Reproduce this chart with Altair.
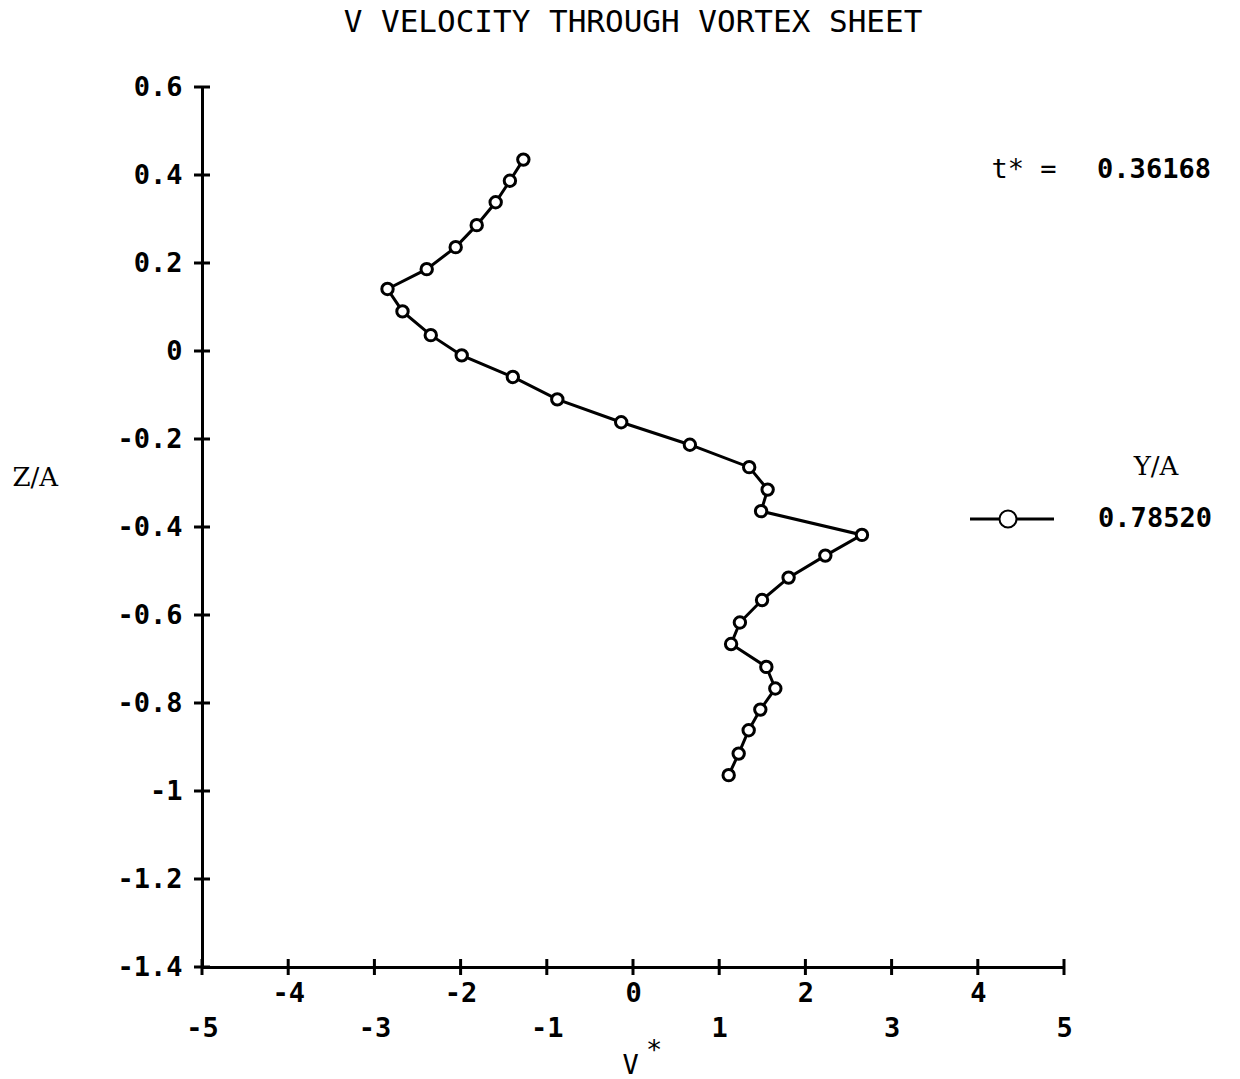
import altair as alt
import pandas as pd

# ---- data ----
v_star = [-1.272, -1.428, -1.593, -1.813, -2.057, -2.393, -2.848, -2.674, -2.346,
          -1.987, -1.394, -0.878, -0.137, 0.660, 1.348, 1.562, 1.486, 2.656,
          2.231, 1.805, 1.497, 1.240, 1.138, 1.547, 1.651, 1.477, 1.342, 1.226, 1.110]
z_a = [0.435, 0.387, 0.338, 0.286, 0.236, 0.186, 0.141, 0.090, 0.036,
       -0.010, -0.059, -0.110, -0.162, -0.213, -0.264, -0.315, -0.364, -0.418,
       -0.465, -0.515, -0.566, -0.617, -0.666, -0.718, -0.767, -0.815, -0.862, -0.915, -0.964]
x_ticks = [-5, -4, -3, -2, -1, 0, 1, 2, 3, 4, 5]
y_ticks = [0.6, 0.4, 0.2, 0, -0.2, -0.4, -0.6, -0.8, -1, -1.2, -1.4]
x_domain = [-5, 5]
y_domain = [-1.4, 0.6]
t_star = "0.36168"
y_over_a = "0.78520"
title_text = "V VELOCITY THROUGH VORTEX SHEET"

df = pd.DataFrame({"idx": list(range(len(v_star))), "v": v_star, "z": z_a})
xt = pd.DataFrame({"v": x_ticks, "z": [y_domain[0]] * len(x_ticks)})
yt = pd.DataFrame({"v": [x_domain[0]] * len(y_ticks), "z": y_ticks})
one = pd.DataFrame({"a": [0]})

MONO = "DejaVu Sans Mono"
SERIF = "DejaVu Serif"

xs = alt.Scale(domain=x_domain, nice=False, zero=False)
ys = alt.Scale(domain=y_domain, nice=False, zero=False)

x_axis = alt.Axis(
    values=x_ticks, grid=False, ticks=False, domainColor="black", domainWidth=3,
    format="~g",
    labelExpr="datum.value % 2 == 0 ? replace(datum.label, '\u2212', '-') : ['', replace(datum.label, '\u2212', '-')]",
    labelFont=MONO, labelFontWeight="bold", labelFontSize=27, labelColor="black",
    labelLineHeight=35, labelPadding=13, labelFlush=False, labelOverlap=False,
    labelBaseline="top",
    title="V", titleFont=MONO, titleFontWeight="normal",
    titleFontSize=27, titleColor="black", titleBaseline="alphabetic",
    titleAlign="center", titleX=428, titleY=106,
)
y_axis = alt.Axis(
    values=y_ticks, grid=False, ticks=False, domainColor="black", domainWidth=3,
    format="~g",
    labelExpr="replace(datum.label, '\u2212', '-')",
    labelFont=MONO, labelFontWeight="bold", labelFontSize=27, labelColor="black",
    labelPadding=20, labelFlush=False, labelOverlap=False,
    title="Z/A", titleFont=SERIF, titleFontWeight="normal", titleFontSize=26,
    titleColor="black", titleAngle=0, titleAlign="left", titleBaseline="middle",
    titleX=-190, titleY=390,
)

X = alt.X("v:Q", scale=xs, axis=x_axis)
Y = alt.Y("z:Q", scale=ys, axis=y_axis)

line = alt.Chart(df).mark_line(color="black", strokeWidth=3).encode(
    x=X, y=Y, order=alt.Order("idx:Q"))
pts = alt.Chart(df).mark_point(shape="circle", fill="white", stroke="black",
                               strokeWidth=3, size=130, opacity=1, fillOpacity=1).encode(x=X, y=Y)
xtick = alt.Chart(xt).mark_tick(orient="vertical", size=16, thickness=3, color="black",
                                opacity=1).encode(x=X, y=Y)
ytick = alt.Chart(yt).mark_tick(orient="horizontal", size=16, thickness=3, color="black",
                                opacity=1).encode(x=X, y=Y)

# annotations (pixel positions relative to the plot area)
star = alt.Chart(one).mark_text(text="*", font=MONO, fontSize=27, align="center",
                                baseline="alphabetic", color="black").encode(
    x=alt.value(452), y=alt.value(972))
t_lbl = alt.Chart(one).mark_text(text="t* =", font=MONO, fontSize=27, align="center",
                                 baseline="middle", color="black").encode(
    x=alt.value(822), y=alt.value(83))
t_val = alt.Chart(one).mark_text(text=t_star, font=MONO, fontSize=27, fontWeight="bold",
                                 align="center", baseline="middle", color="black").encode(
    x=alt.value(952), y=alt.value(83))
leg_title = alt.Chart(one).mark_text(text="Y/A", font=SERIF, fontSize=26, align="center",
                                     baseline="middle", color="black").encode(
    x=alt.value(954), y=alt.value(380))
leg_line = alt.Chart(one).mark_rule(color="black", strokeWidth=3).encode(
    x=alt.value(768), x2=alt.value(852), y=alt.value(432))
leg_pt = alt.Chart(one).mark_point(shape="circle", fill="white", stroke="black", strokeWidth=2,
                                   size=290, opacity=1, fillOpacity=1).encode(
    x=alt.value(806), y=alt.value(432))
leg_val = alt.Chart(one).mark_text(text=y_over_a, font=MONO, fontSize=27, fontWeight="bold",
                                   align="center", baseline="middle", color="black").encode(
    x=alt.value(953), y=alt.value(432))

chart = alt.layer(line, pts, xtick, ytick, star, t_lbl, t_val, leg_title, leg_line, leg_pt,
                  leg_val).properties(
    width=862, height=880,
    title=alt.TitleParams(title_text, font=MONO, fontSize=31, fontWeight="normal", color="black",
                          anchor="middle", frame="group", baseline="bottom", offset=3),
    autosize=alt.AutoSizeParams(type="none"),
    padding={"left": 202, "top": 87, "right": 176, "bottom": 112},
    background="white",
).configure_view(strokeWidth=0)

chart.save("out.html", embed_options={"renderer": "svg", "actions": False})
